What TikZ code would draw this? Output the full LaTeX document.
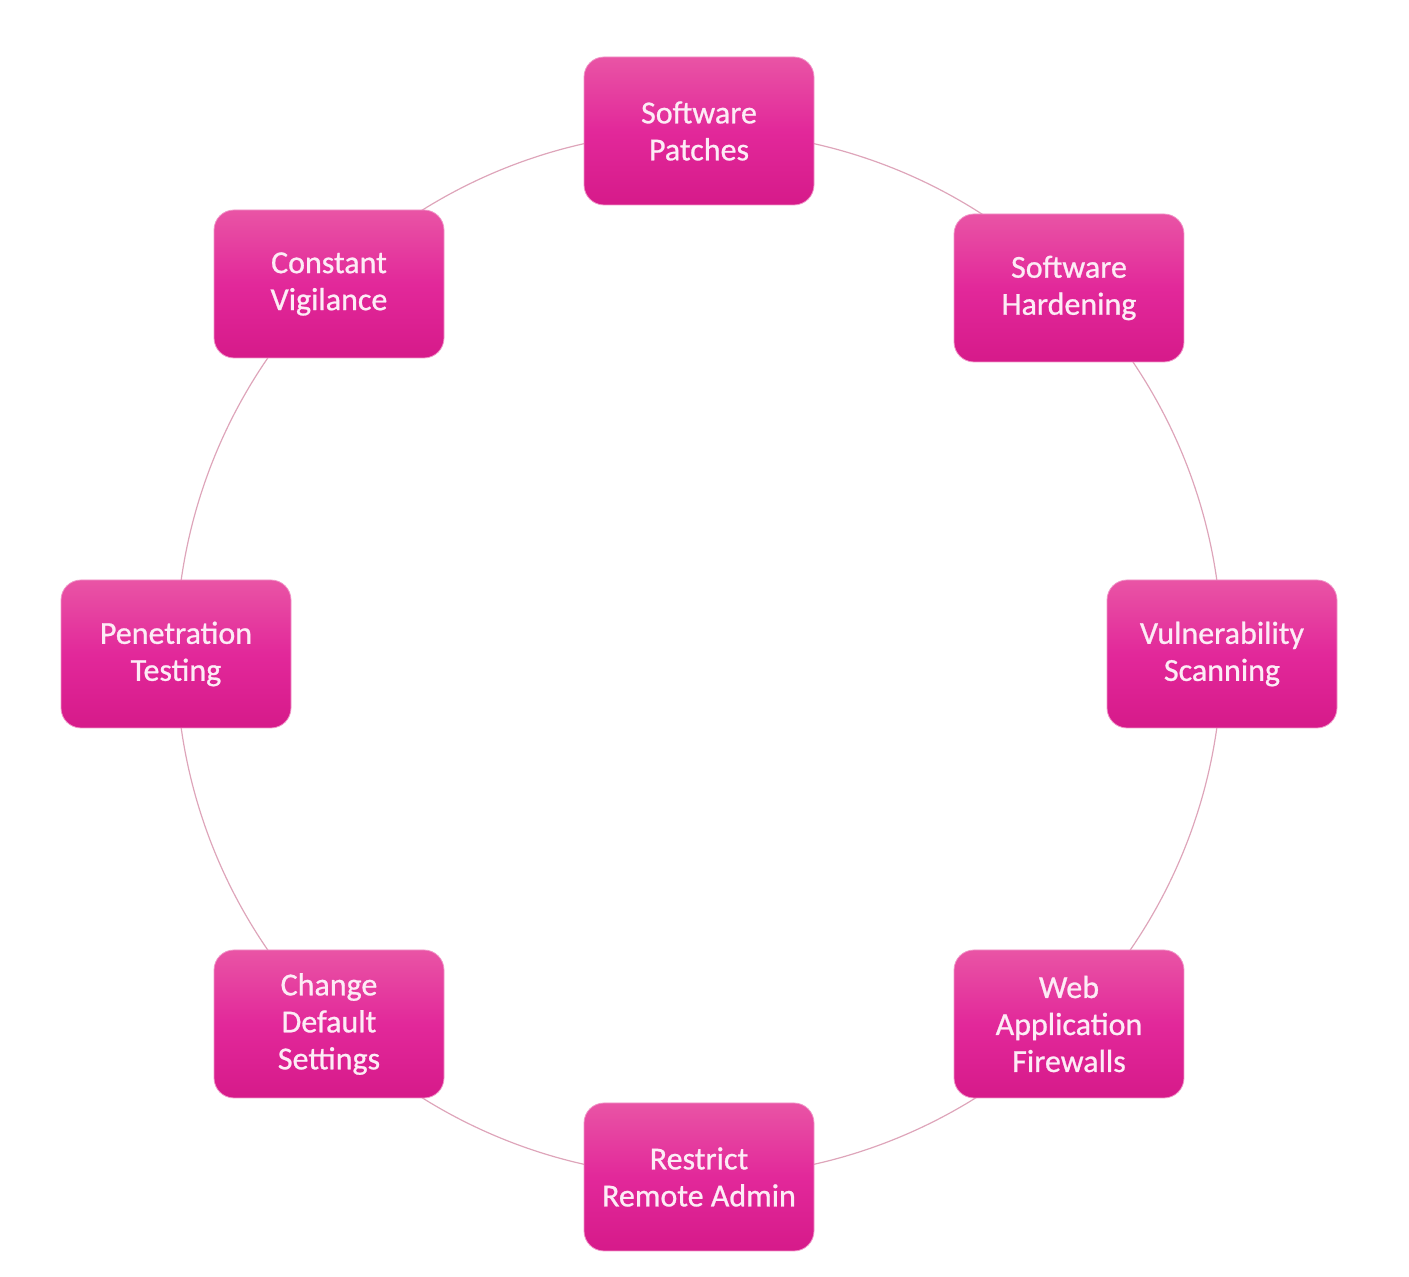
\documentclass[tikz,border=0pt]{standalone}
\usepackage{fontspec}
\setmainfont{Carlito}[FakeBold=0.8]
\definecolor{boxtop}{RGB}{233,84,165}
\definecolor{boxmid}{RGB}{226,40,154}
\definecolor{boxbot}{RGB}{214,26,138}
\definecolor{boxrim}{RGB}{240,150,200}
\definecolor{ringcol}{RGB}{222,165,186}
\definecolor{txtcol}{RGB}{253,236,246}
\begin{document}
\begin{tikzpicture}[x=1pt,y=1pt,
  stagebox/.style={rectangle, rounded corners=20pt, minimum width=230pt, minimum height=148pt,
    inner sep=0pt, top color=boxtop, bottom color=boxbot, middle color=boxmid,
    draw=boxrim, line width=0.8pt, text=txtcol, align=center,
    font=\fontsize{32}{37}\selectfont},
  ring/.style={draw=ringcol, line width=1.2pt}]
\useasboundingbox (0,0) rectangle (1409,1277);
\coordinate (centre) at (699,623);
\draw[ring] (centre) circle (523);
\node[stagebox] (P) at (699,1146) {Software\\Patches};
\node[stagebox] (H) at (1069,989) {Software\\Hardening};
\node[stagebox] (V) at (1222,623) {Vulnerability\\Scanning};
\node[stagebox] (W) at (1069,253) {Web\\Application\\Firewalls};
\node[stagebox] (R) at (699,100) {Restrict\\Remote Admin};
\node[stagebox] (C) at (329,253) {Change\\Default\\Settings};
\node[stagebox] (T) at (176,623) {Penetration\\Testing};
\node[stagebox] (G) at (329,993) {Constant\\Vigilance};
\end{tikzpicture}
\end{document}
